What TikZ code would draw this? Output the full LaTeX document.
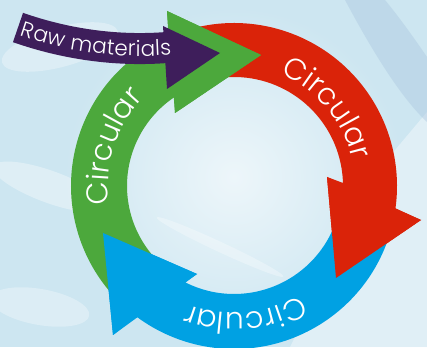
\documentclass[tikz,border=0pt]{standalone}
\usepackage{fontspec}
\setmainfont{Poppins Light}
\usetikzlibrary{decorations.text}
\definecolor{bgA}{HTML}{CDE6F1}
\definecolor{bgB}{HTML}{EDF6FA}
\definecolor{bgC}{HTML}{A9C4DD}
\definecolor{cgreen}{HTML}{4CA83C}
\definecolor{cred}{HTML}{DA2309}
\definecolor{cblue}{HTML}{00A1E3}
\definecolor{cpurple}{HTML}{3E1E5B}
\tikzset{
  ringtext/.style={decorate, decoration={text along path, text align=center, text color=white,
      text={|\fontsize{30}{33}\selectfont|Circular}}},
  rawtext/.style={decorate, decoration={text along path, text align=center, raise=-7.5pt, text color=white,
      text={|\fontsize{21.5}{24}\selectfont|Raw materials}}},
}
\begin{document}
\begin{tikzpicture}[x=1pt,y=1pt]
\useasboundingbox (0,0) rectangle (427,347);
% background
\fill[bgA] (0,0) rectangle (427,347);
\shade[inner color=bgB, outer color=bgA] (234,170) circle (170);
\fill[bgB, opacity=.6] (290,0) -- (427,0) -- (427,235) -- (385,185) -- cycle;
\fill[bgC, opacity=.4] (345,347) .. controls (370,300) and (400,250) .. (427,225) -- (427,290) .. controls (410,315) and (395,335) .. (385,347) -- cycle;
\fill[white, opacity=.35, rotate around={-20:(50,160)}] (50,160) ellipse (60 and 16);
\fill[white, opacity=.3, rotate around={-25:(220,100)}] (220,100) ellipse (70 and 5);
\fill[white, opacity=.3, rotate around={15:(60,300)}] (60,300) ellipse (60 and 20);
\fill[white, opacity=.3, rotate around={-10:(40,40)}] (40,40) ellipse (50 and 18);
% ring arrows
\begin{scope}[shift={(234,161)}]
  \fill[cred] (105:163) arc[start angle=105, end angle=-8.0, radius=163]
     -- (187,-34) -- (102,-92) -- (93,9) -- (1.6:109) arc[start angle=1.6, end angle=105, radius=109] -- cycle;
  \fill[cblue] (-10:163) arc[start angle=-10, end angle=-126.7, radius=163]
     -- (-121,-149) -- (-131,-47) -- (-37,-88) -- (-116.8:108) arc[start angle=-116.8, end angle=-10, radius=108] -- cycle;
  \fill[cgreen] (225:163) arc[start angle=225, end angle=113.7, radius=163]
     -- (-67,175) -- (27,131) -- (-59,73) -- (124:107) arc[start angle=124, end angle=225, radius=107] -- cycle;
  % heads again on top
  \fill[cred] (187,-34) -- (102,-92) -- (93,9) -- cycle;
  \fill[cblue] (-121,-149) -- (-131,-47) -- (-37,-88) -- cycle;
  \fill[cgreen] (-67,175) -- (27,131) -- (-59,73) -- cycle;
  % labels
  \path[ringtext] (100:121) arc[start angle=100, end angle=-20, radius=121];
  \path[ringtext] (222:126) arc[start angle=222, end angle=102, radius=126];
  \path[ringtext] (-25:127) arc[start angle=-25, end angle=-145, radius=127];
\end{scope}
% raw materials arrow
\draw[cpurple, line width=31] (18,319.5) .. controls (65,303) and (116,295.5) .. (167,299.5);
\fill[cpurple] (163,321) -- (220,294) -- (167,258) -- cycle;
\path[rawtext] (23,318) .. controls (70,302) and (120,295.5) .. (170,299.5);
\end{tikzpicture}
\end{document}
